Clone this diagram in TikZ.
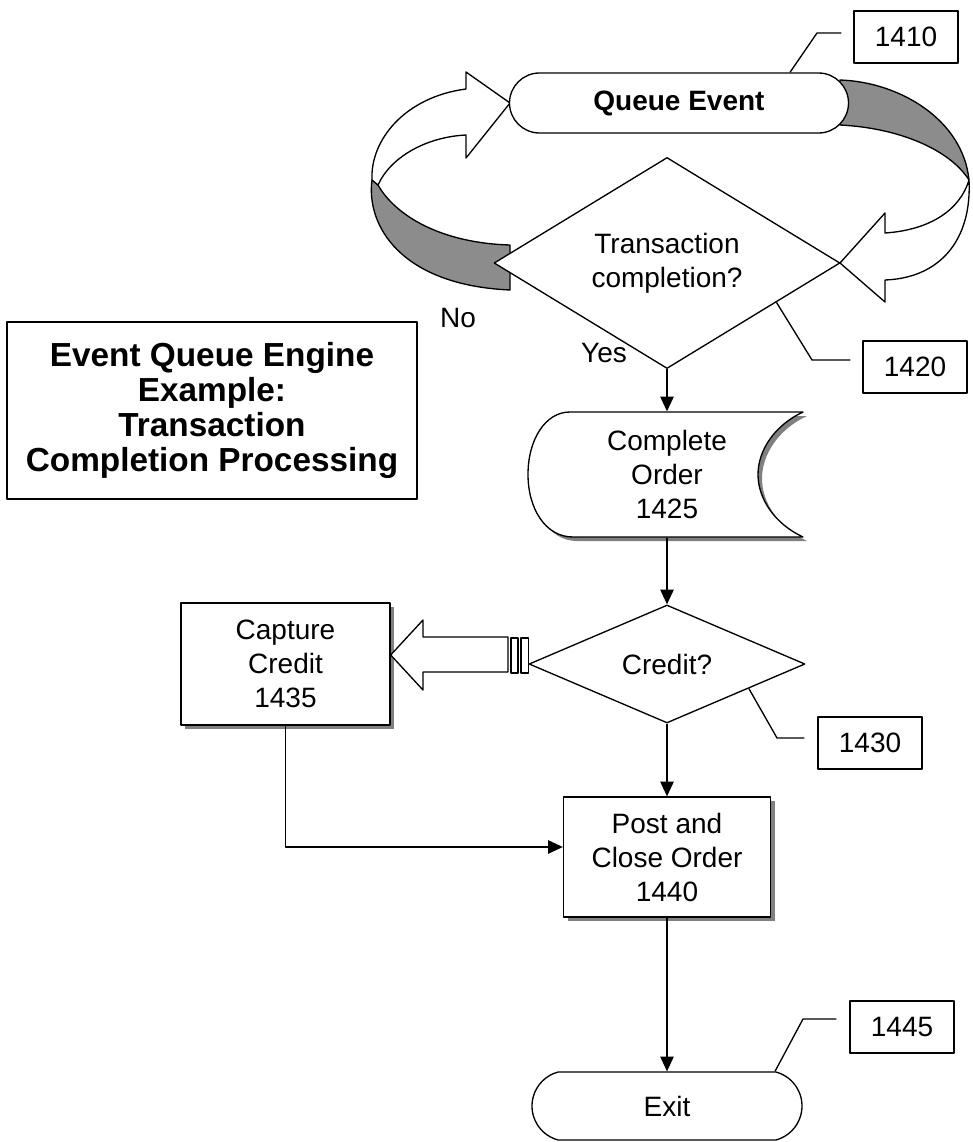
\documentclass[tikz,border=0pt]{standalone}
\usepackage{fontspec}
\setmainfont{Liberation Sans}
\usetikzlibrary{arrows.meta,shapes.geometric,shapes.misc,shadows,calc}
\begin{document}
\begin{tikzpicture}[x=0.75pt,y=-0.75pt,
  line width=1pt, line join=round,
  txt/.style={font=\fontsize{21}{25.5}\selectfont, align=center, inner sep=0pt},
  ttl/.style={font=\fontsize{25}{26.25}\selectfont\bfseries, align=center, inner sep=0pt},
  refbox/.style={draw, fill=white, minimum width=78pt, minimum height=39pt, inner sep=0pt,
                 font=\fontsize{21}{25}\selectfont},
  flow/.style={-{Triangle[length=11pt,width=10pt]}},
  ribbonback/.style={draw, fill=black!45},
  ribbonfront/.style={draw, fill=white},
  boxshadow/.style={drop shadow={shadow xshift=3pt, shadow yshift=-3pt, fill=black!50, opacity=1}},
  decision/.style={draw, fill=white, diamond, inner sep=0pt, txt},
  terminal/.style={draw, fill=white, rounded rectangle, inner sep=0pt, txt}
]
\useasboundingbox (0,0) rectangle (973,1142);

% ---- loop ribbon round the queue event and the first decision ----
% left side: back face of the ribbon, then the arrow leading into the queue event
\path[ribbonback] (372,180) .. controls (366,225) and (400,285) .. (510,290)
  -- (510,245) .. controls (440,243) and (395,215) .. (378,185) -- cycle;
\path[ribbonfront] (372,180) .. controls (370,140) and (405,97) .. (466,89)
  -- (466,72) -- (510,103) -- (466,158) -- (466,135)
  .. controls (425,137) and (390,158) .. (378,185) -- cycle;
% right side: back face, then the arrow leading into the decision
\path[ribbonback] (840,80) .. controls (900,82) and (963,120) .. (969,180)
  .. controls (950,150) and (900,128) .. (840,125) -- cycle;
\path[ribbonfront] (969,180) .. controls (972,240) and (940,278) .. (885,280)
  -- (885,302) -- (840,263) -- (885,213) -- (885,233)
  .. controls (930,230) and (960,210) .. (969,180) -- cycle;

% ---- flow elements ----
\node[terminal, font=\fontsize{21}{25.5}\selectfont\bfseries,
      minimum width=254.25pt, minimum height=45pt] (queue) at (679,103) {Queue Event};

\node[decision, minimum width=259.5pt, minimum height=118.5pt] (d1420) at (667,263)
  {Transaction\\completion?};

\node[txt] (no) at (458,318) {No};
\node[txt] (yes) at (604,353) {Yes};

% stored-data shape for the order step, with its shadow
\begin{scope}[shift={(4,4)}]
  \fill[black!50] (570,412) -- (803,412) .. controls (775,425) and (758,450) .. (758,474.5)
    .. controls (758,499) and (775,524) .. (803,537) -- (573,537)
    .. controls (545,537) and (528,508) .. (528,474.5)
    .. controls (528,440) and (545,412) .. (570,412) -- cycle;
\end{scope}
\draw[fill=white] (570,412) -- (803,412) .. controls (775,425) and (758,450) .. (758,474.5)
    .. controls (758,499) and (775,524) .. (803,537) -- (573,537)
    .. controls (545,537) and (528,508) .. (528,474.5)
    .. controls (528,440) and (545,412) .. (570,412) -- cycle;
\node[txt, minimum width=206.25pt, minimum height=93.75pt] (order) at (667,474.5)
  {Complete\\Order\\1425};

\node[decision, minimum width=207pt, minimum height=88.5pt] (credit) at (667,664) {Credit?};

\node[txt, draw, fill=white, boxshadow, minimum width=156.75pt, minimum height=91.5pt]
  (capture) at (285.5,664) {Capture\\Credit\\1435};

\node[txt, draw, fill=white, boxshadow, minimum width=155.25pt, minimum height=90pt]
  (post) at (667,857) {Post and\\Close Order\\1440};

\node[terminal, rounded rectangle arc length=150,
      minimum width=202.5pt, minimum height=51pt] (exit) at (667,1106) {Exit};

% title panel
\node[ttl, draw, line width=0.8pt, minimum width=307.5pt, minimum height=132.75pt]
  (title) at (212,410.5)
  {Event Queue Engine\\Example:\\Transaction\\Completion Processing};

% ---- hollow arrow from the credit decision to the capture step ----
\draw[fill=white] (508,637) -- (423,637) -- (423,620) -- (capture.east |- 0,655)
  -- (423,690) -- (423,672) -- (508,672) -- cycle;
\draw[fill=white] (511,638) rectangle (518,673);
\draw[fill=white] (521,638) rectangle (credit.west |- 0,673);

% ---- connectors ----
\draw[flow] (d1420.south) -- (order.north);
\draw[flow] (order.south) -- (credit.north);
\draw[flow] (credit.south) -- (post.north);
\draw[flow] (capture.south) |- ([yshift=7.5pt]post.west);
\draw[flow] (post.south) -- (exit.north);

% ---- reference labels and their leaders ----
\node[refbox] (b1410) at (906,37) {1410};
\node[refbox] (b1420) at (915,367) {1420};
\node[refbox] (b1430) at (870,743) {1430};
\node[refbox] (b1445) at (902,1027) {1445};

\draw ($(queue.north)+(111,0)$) -- (817,33) -- ($(b1410.west)+(-12,-4)$);
\draw ($(d1420.east)!0.37!(d1420.south)$) -- (812,360) -- ($(b1420.west)+(-12,-7)$);
\draw ($(credit.east)!0.41!(credit.south)$) -- (777,738) -- ($(b1430.west)+(-13,-5)$);
\draw ($(exit.north)+(108,0)$) -- (803,1019) -- ($(b1445.west)+(-13,-8)$);
\end{tikzpicture}
\end{document}
